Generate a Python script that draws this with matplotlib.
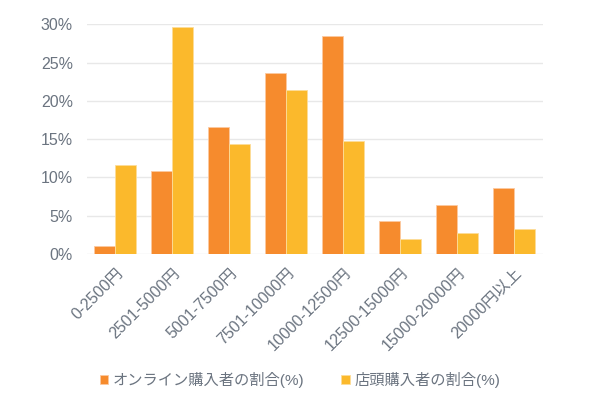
import numpy as np
import matplotlib
matplotlib.use("Agg")
import matplotlib.pyplot as plt

plt.rcParams['font.family'] = ['Liberation Sans', 'Noto Sans CJK JP', 'DejaVu Sans']

categories = ['0-2500円', '2501-5000円', '5001-7500円', '7501-10000円',
              '10000-12500円', '12500-15000円', '15000-20000円', '20000円以上']
online = [1.1, 10.8, 16.6, 23.6, 28.5, 4.3, 6.4, 8.6]
store = [11.6, 29.7, 14.4, 21.4, 14.8, 1.9, 2.8, 3.3]
series_names = ['オンライン購入者の割合(%)', '店頭購入者の割合(%)']

text_color = '#6b7480'
colors = ['#F68B2D', '#FBB92C']

fig = plt.figure(figsize=(6, 3.96), dpi=100)
ax = fig.add_axes([0.1445, 0.3586, 0.76, 0.58])

x = np.arange(len(categories))
w = 0.37
ax.bar(x - w/2, online, w, color=colors[0], edgecolor='#FCC9A0', linewidth=0.6,
       label=series_names[0], zorder=3)
ax.bar(x + w/2, store, w, color=colors[1], edgecolor='#FDDD99', linewidth=0.6,
       label=series_names[1], zorder=3)

ax.set_xlim(-0.5, len(categories) - 0.5)
ax.set_ylim(0, 30)
ax.set_yticks(np.arange(0, 31, 5))
ax.set_yticklabels([f'{v}%' for v in range(0, 31, 5)])
ax.grid(axis='y', color='#e8e8e8', linewidth=1, zorder=0)
for s in ax.spines.values():
    s.set_visible(False)
ax.tick_params(axis='both', length=0, colors=text_color, labelsize=11.5)
ax.tick_params(axis='y', pad=10)
ax.tick_params(axis='x', pad=8)
ax.set_xticks(x)
ax.set_xticklabels(categories, rotation=45, ha='right', rotation_mode='anchor',
                   fontsize=11.5)

leg = fig.legend(loc='center', bbox_to_anchor=(0.5, 0.04), ncol=2, frameon=False,
                 fontsize=11, handlelength=0.55, handleheight=0.55,
                 handletextpad=0.3, columnspacing=2.4)
for t in leg.get_texts():
    t.set_color(text_color)

fig.savefig('out.png', dpi=100)
